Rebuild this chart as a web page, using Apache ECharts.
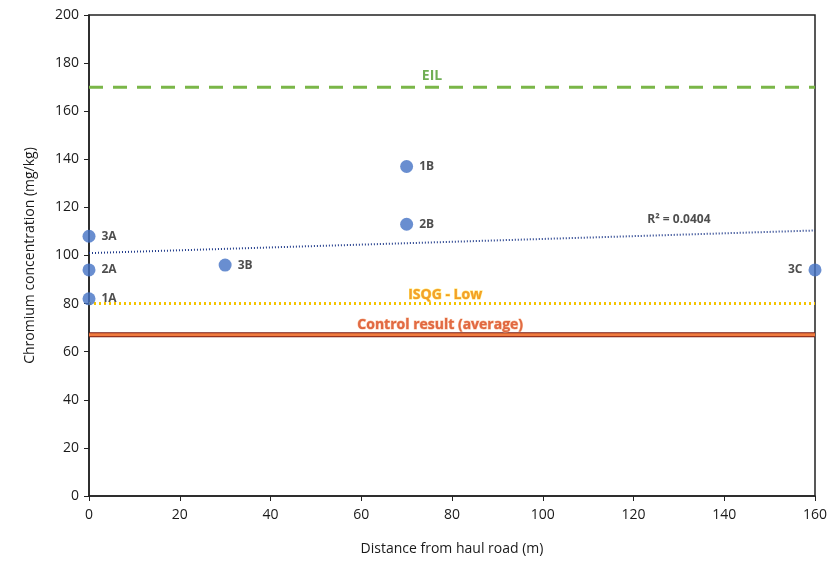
<!DOCTYPE html>
<html>
<head>
<meta charset="utf-8">
<script src="https://cdn.jsdelivr.net/npm/echarts@6/dist/echarts.min.js"></script>
<style>
  html, body { margin: 0; padding: 0; background: #fff; }
  #chart { width: 834px; height: 561px; }
</style>
</head>
<body>
<div id="chart"></div>
<script>
// sample points
let sampleX = [0, 0, 0, 30, 70, 70, 160]
let sampleY = [108, 94, 82, 96, 137, 113, 94]
let sampleNames = ['3A', '2A', '1A', '3B', '1B', '2B', '3C']

// guideline values
let eilValue = 170
let isqgValue = 80
let controlValue = 67
let trendX = [0, 160]
let trendY = [101, 110.4]
let rSquaredText = 'R² = 0.0404'

let xMin = 0
let xMax = 160

let chart = echarts.init(document.getElementById('chart'))
let fontFamily = 'Open Sans, Liberation Sans, sans-serif'

let points = sampleX.map(function (x, i) {
  let item = { value: [x, sampleY[i]], name: sampleNames[i] }
  // last column sits on the right edge, label goes to the left
  if (x === xMax) item.label = { position: 'left' }
  return item
})

function flatLine (v) {
  return [[xMin, v], [xMax, v]]
}

chart.setOption({
  animation: false,
  grid: { left: 89, right: 19, top: 15, bottom: 65, show: true, borderColor: '#222', borderWidth: 1.5 },
  xAxis: {
    type: 'value',
    min: xMin,
    max: xMax,
    interval: 20,
    name: 'Distance from haul road (m)',
    nameLocation: 'middle',
    nameGap: 46,
    nameTextStyle: { color: '#1a1a1a', fontSize: 14, fontFamily: fontFamily },
    axisLine: { show: true, lineStyle: { color: '#222', width: 1.5 } },
    axisTick: { show: true, inside: false, length: 5, lineStyle: { color: '#222' } },
    axisLabel: { color: '#1a1a1a', fontSize: 14, fontFamily: fontFamily, margin: 12 },
    splitLine: { show: false }
  },
  yAxis: {
    type: 'value',
    min: 0,
    max: 200,
    interval: 20,
    name: 'Chromium concentration (mg/kg)',
    nameLocation: 'middle',
    nameGap: 52,
    nameTextStyle: { color: '#1a1a1a', fontSize: 14, fontFamily: fontFamily },
    axisLine: { show: true, lineStyle: { color: '#222', width: 1.5 } },
    axisTick: { show: true, length: 5, lineStyle: { color: '#222' } },
    axisLabel: { color: '#1a1a1a', fontSize: 14, fontFamily: fontFamily, margin: 10 },
    splitLine: { show: false }
  },
  series: [
    {
      name: 'EIL',
      type: 'line',
      symbol: 'none',
      data: flatLine(eilValue),
      lineStyle: { color: '#7ab648', width: 3, type: [14, 10] },
      z: 2
    },
    {
      name: 'ISQG - Low',
      type: 'line',
      symbol: 'none',
      data: flatLine(isqgValue),
      lineStyle: { color: '#f5c400', width: 3, type: [2, 3] },
      z: 2
    },
    {
      name: 'Control border',
      type: 'line',
      symbol: 'none',
      data: flatLine(controlValue),
      lineStyle: { color: '#7a1a10', width: 5 },
      z: 2
    },
    {
      name: 'Control result (average)',
      type: 'line',
      symbol: 'none',
      data: flatLine(controlValue),
      lineStyle: { color: '#f07b3f', width: 3 },
      z: 3
    },
    {
      name: 'Trend',
      type: 'line',
      symbol: 'none',
      data: trendX.map(function (x, i) { return [x, trendY[i]] }),
      lineStyle: { color: '#1f3a8a', width: 2, type: [1, 2] },
      z: 4
    },
    {
      name: 'Samples',
      type: 'scatter',
      symbolSize: 13,
      data: points,
      itemStyle: { color: '#4472c4' },
      label: {
        show: true,
        position: 'right',
        distance: 6,
        formatter: '{b}',
        color: '#222',
        fontSize: 12,
        fontWeight: 'bold',
        fontFamily: fontFamily
      },
      z: 5
    },
    {
      name: 'Annotations',
      type: 'scatter',
      symbolSize: 0,
      silent: true,
      data: [
        [75.6, 174.5, 'EIL', 'eil'],
        [78.5, 83.5, 'ISQG - Low', 'isqg'],
        [77.4, 71, 'Control result (average)', 'ctrl'],
        [130, 115, rSquaredText, 'r2']
      ],
      label: {
        show: true,
        position: 'inside',
        formatter: function (p) { return '{' + p.data[3] + '|' + p.data[2] + '}' },
        rich: {
          eil: { color: '#4c9a2a', fontSize: 14, fontWeight: 'bold', fontFamily: fontFamily },
          isqg: { color: '#f08a00', fontSize: 14, fontWeight: 'bold', fontFamily: fontFamily, textBorderColor: '#ffe14d', textBorderWidth: 1 },
          ctrl: { color: '#d9481c', fontSize: 14, fontWeight: 'bold', fontFamily: fontFamily, textBorderColor: '#f6b38a', textBorderWidth: 1 },
          r2: { color: '#222', fontSize: 12, fontWeight: 'bold', fontFamily: fontFamily }
        }
      },
      z: 6
    }
  ]
})
</script>
</body>
</html>
